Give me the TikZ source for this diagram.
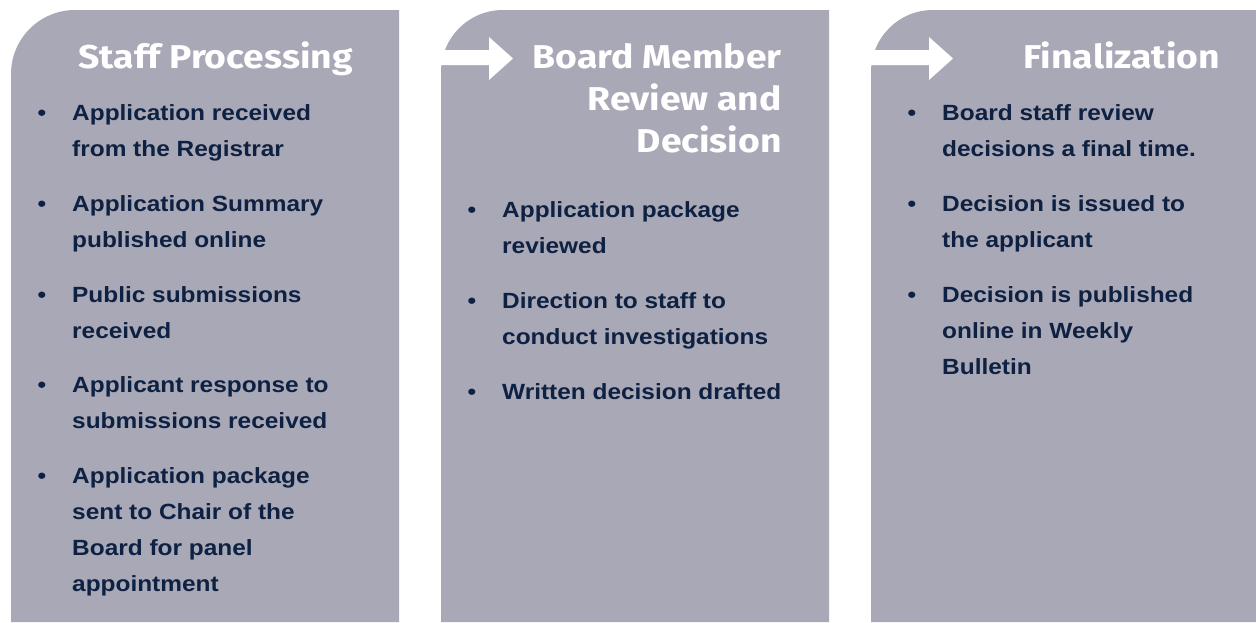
\documentclass[tikz,border=0pt]{standalone}
\usepackage{fontspec}
\setmainfont{Liberation Sans}[FakeStretch=1.11]
\newfontfamily\headfont{Fira Sans}[FakeStretch=1.13]
\definecolor{panelgray}{HTML}{A9A8B6}
\definecolor{navy}{HTML}{0E2142}
\begin{document}
\begin{tikzpicture}[x=1pt,y=-1pt,
  panel/.style={fill=panelgray},
  flowarrow/.style={fill=white},
  head/.style={anchor=base east, text=white, inner sep=0pt, font=\headfont\bfseries\fontsize{33}{42}\selectfont},
  line/.style={anchor=base west, text=navy, inner sep=0pt, font=\bfseries\fontsize{22}{36}\selectfont},
  bul/.style={anchor=base, text=navy, inner sep=0pt, font=\bfseries\fontsize{22}{36}\selectfont}]
\useasboundingbox (0,0) rectangle (1256,622);
% panels
\fill[panel] (11,622) -- (11,74) arc[start angle=180, end angle=90, radius=64pt] -- (399,10) -- (399,622) -- cycle;
\fill[panel] (441,622) -- (441,72) arc[start angle=180, end angle=90, radius=62pt] -- (829,10) -- (829,622) -- cycle;
\fill[panel] (871,622) -- (871,72) arc[start angle=180, end angle=90, radius=62pt] -- (1270,10) -- (1270,622) -- cycle;
% arrows
\fill[flowarrow] (436,50) -- (489,50) -- (489,37) -- (513,58.5) -- (489,80) -- (489,65) -- (436,65) -- cycle;
\fill[flowarrow] (866,50) -- (929,50) -- (929,37) -- (953,58.5) -- (929,80) -- (929,65) -- (866,65) -- cycle;
% headers
\node[head] (h1) at (353,68) {Staff Processing};
\node[head] (h2a) at (782,68) {Board Member};
\node[head] (h2b) at (782,110) {Review and};
\node[head] (h2c) at (782,152) {Decision};
\node[head] (h3) at (1220,68) {Finalization};
% panel 1
\node[bul] (b11) at (42,120) {•};
\node[line] (t11a) at (72,120) {Application received};
\node[line] (t11b) at (72,156) {from the Registrar};
\node[bul] (b12) at (42,211) {•};
\node[line] (t12a) at (72,211) {Application Summary};
\node[line] (t12b) at (72,247) {published online};
\node[bul] (b13) at (42,302) {•};
\node[line] (t13a) at (72,302) {Public submissions};
\node[line] (t13b) at (72,338) {received};
\node[bul] (b14) at (42,392) {•};
\node[line] (t14a) at (72,392) {Applicant response to};
\node[line] (t14b) at (72,428) {submissions received};
\node[bul] (b15) at (42,483) {•};
\node[line] (t15a) at (72,483) {Application package};
\node[line] (t15b) at (72,519) {sent to Chair of the};
\node[line] (t15c) at (72,555) {Board for panel};
\node[line] (t15d) at (72,591) {appointment};
% panel 2
\node[bul] (b21) at (472,217) {•};
\node[line] (t21a) at (502,217) {Application package};
\node[line] (t21b) at (502,253) {reviewed};
\node[bul] (b22) at (472,308) {•};
\node[line] (t22a) at (502,308) {Direction to staff to};
\node[line] (t22b) at (502,344) {conduct investigations};
\node[bul] (b23) at (472,399) {•};
\node[line] (t23a) at (502,399) {Written decision drafted};
% panel 3
\node[bul] (b31) at (912,120) {•};
\node[line] (t31a) at (942,120) {Board staff review};
\node[line] (t31b) at (942,156) {decisions a final time.};
\node[bul] (b32) at (912,211) {•};
\node[line] (t32a) at (942,211) {Decision is issued to};
\node[line] (t32b) at (942,247) {the applicant};
\node[bul] (b33) at (912,302) {•};
\node[line] (t33a) at (942,302) {Decision is published};
\node[line] (t33b) at (942,338) {online in Weekly};
\node[line] (t33c) at (942,374) {Bulletin};
\end{tikzpicture}
\end{document}
